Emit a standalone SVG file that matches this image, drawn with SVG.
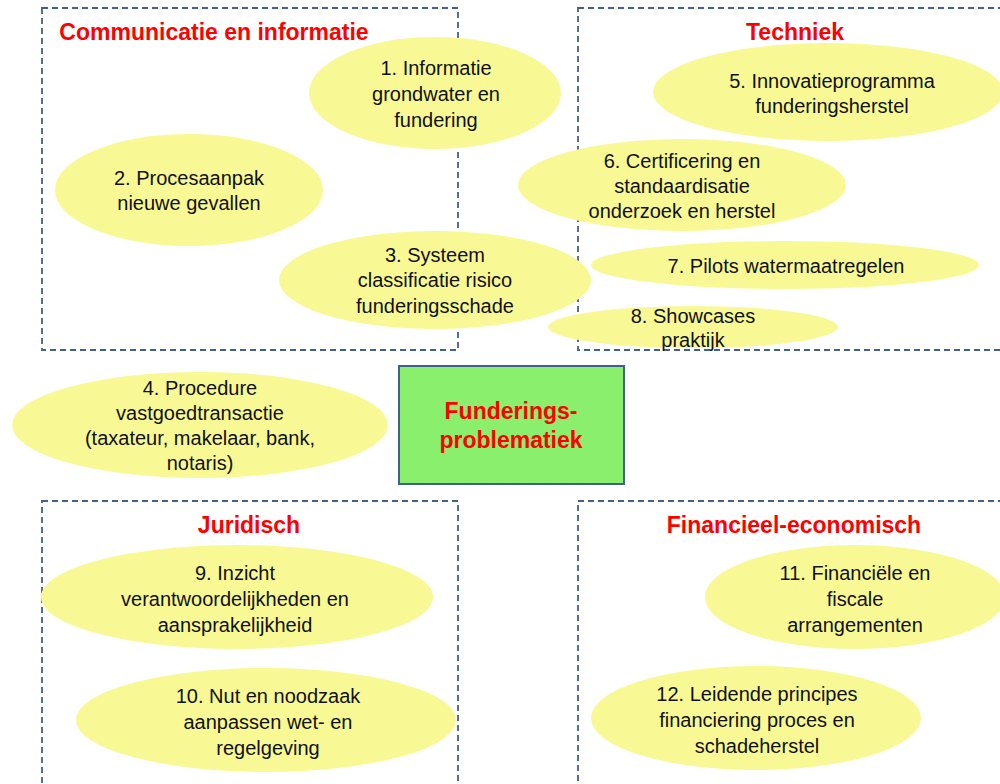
<svg xmlns="http://www.w3.org/2000/svg" width="1000" height="784" viewBox="0 0 1000 784">
<style>
.box{fill:none;stroke:#41608c;stroke-width:1.8;stroke-dasharray:6 4}
.ell{fill:#f8f994}
.t{font-family:"Liberation Sans",Arial,sans-serif;font-size:20px;fill:#111;text-anchor:middle}
.h{font-family:"Liberation Sans",Arial,sans-serif;font-size:23px;font-weight:bold;fill:#ff0000;text-anchor:middle}
</style>
<rect width="1000" height="784" fill="#fff"/>
<g id="group-communicatie">
<rect class="box" x="42" y="8" width="416" height="342"/>
<text class="h" x="214" y="40">Communicatie en informatie</text>
</g>
<g id="group-techniek">
<rect class="box" x="578" y="8" width="440" height="342"/>
<text class="h" x="795" y="40">Techniek</text>
</g>
<g id="group-juridisch">
<rect class="box" x="42" y="501" width="416" height="300"/>
<text class="h" x="249" y="533">Juridisch</text>
</g>
<g id="group-financieel">
<rect class="box" x="578" y="501" width="440" height="300"/>
<text class="h" x="794" y="533">Financieel-economisch</text>
</g>
<g id="connectors"></g>
<g id="n1"><ellipse class="ell" cx="435" cy="93" rx="126" ry="56"/>
<text class="t" x="436" y="75">1. Informatie</text><text class="t" x="436" y="101">grondwater en</text><text class="t" x="436" y="127">fundering</text></g>
<g id="n2"><ellipse class="ell" cx="189" cy="190" rx="134" ry="56"/>
<text class="t" x="189" y="185">2. Procesaanpak</text><text class="t" x="189" y="210">nieuwe gevallen</text></g>
<g id="n3"><ellipse class="ell" cx="435" cy="280" rx="156" ry="49"/>
<text class="t" x="435" y="262">3. Systeem</text><text class="t" x="435" y="287">classificatie risico</text><text class="t" x="435" y="313">funderingsschade</text></g>
<g id="n5"><ellipse class="ell" cx="828" cy="92" rx="175" ry="49"/>
<text class="t" x="832" y="88">5. Innovatieprogramma</text><text class="t" x="832" y="113">funderingsherstel</text></g>
<g id="n6"><ellipse class="ell" cx="682" cy="185" rx="164" ry="46"/>
<text class="t" x="682" y="168">6. Certificering en</text><text class="t" x="682" y="193">standaardisatie</text><text class="t" x="682" y="218">onderzoek en herstel</text></g>
<g id="n7"><ellipse class="ell" cx="785" cy="265" rx="194" ry="24"/>
<text class="t" x="786" y="273">7. Pilots watermaatregelen</text></g>
<g id="n8"><ellipse class="ell" cx="693" cy="327" rx="145" ry="21"/>
<text class="t" x="693" y="323">8. Showcases</text><text class="t" x="693" y="347">praktijk</text></g>
<g id="n4"><ellipse class="ell" cx="200" cy="425" rx="188" ry="53"/>
<text class="t" x="200" y="395">4. Procedure</text><text class="t" x="200" y="420">vastgoedtransactie</text><text class="t" x="200" y="445">(taxateur, makelaar, bank,</text><text class="t" x="200" y="470">notaris)</text></g>
<g id="center"><rect x="399" y="366" width="225" height="118" fill="#8aef6c" stroke="#41608f" stroke-width="2"/>
<text class="h" x="511" y="419">Funderings-</text><text class="h" x="511" y="448">problematiek</text></g>
<g id="n9"><ellipse class="ell" cx="237" cy="597" rx="196" ry="52"/>
<text class="t" x="235" y="580">9. Inzicht</text><text class="t" x="235" y="606">verantwoordelijkheden en</text><text class="t" x="235" y="632">aansprakelijkheid</text></g>
<g id="n10"><ellipse class="ell" cx="266" cy="720" rx="190" ry="52"/>
<text class="t" x="268" y="703">10. Nut en noodzaak</text><text class="t" x="268" y="729">aanpassen wet- en</text><text class="t" x="268" y="755">regelgeving</text></g>
<g id="n11"><ellipse class="ell" cx="855" cy="597" rx="150" ry="52"/>
<text class="t" x="855" y="580">11. Financiële en</text><text class="t" x="855" y="606">fiscale</text><text class="t" x="855" y="632">arrangementen</text></g>
<g id="n12"><ellipse class="ell" cx="756" cy="718" rx="165" ry="52"/>
<text class="t" x="757" y="701">12. Leidende principes</text><text class="t" x="757" y="727">financiering proces en</text><text class="t" x="757" y="753">schadeherstel</text></g>
</svg>
